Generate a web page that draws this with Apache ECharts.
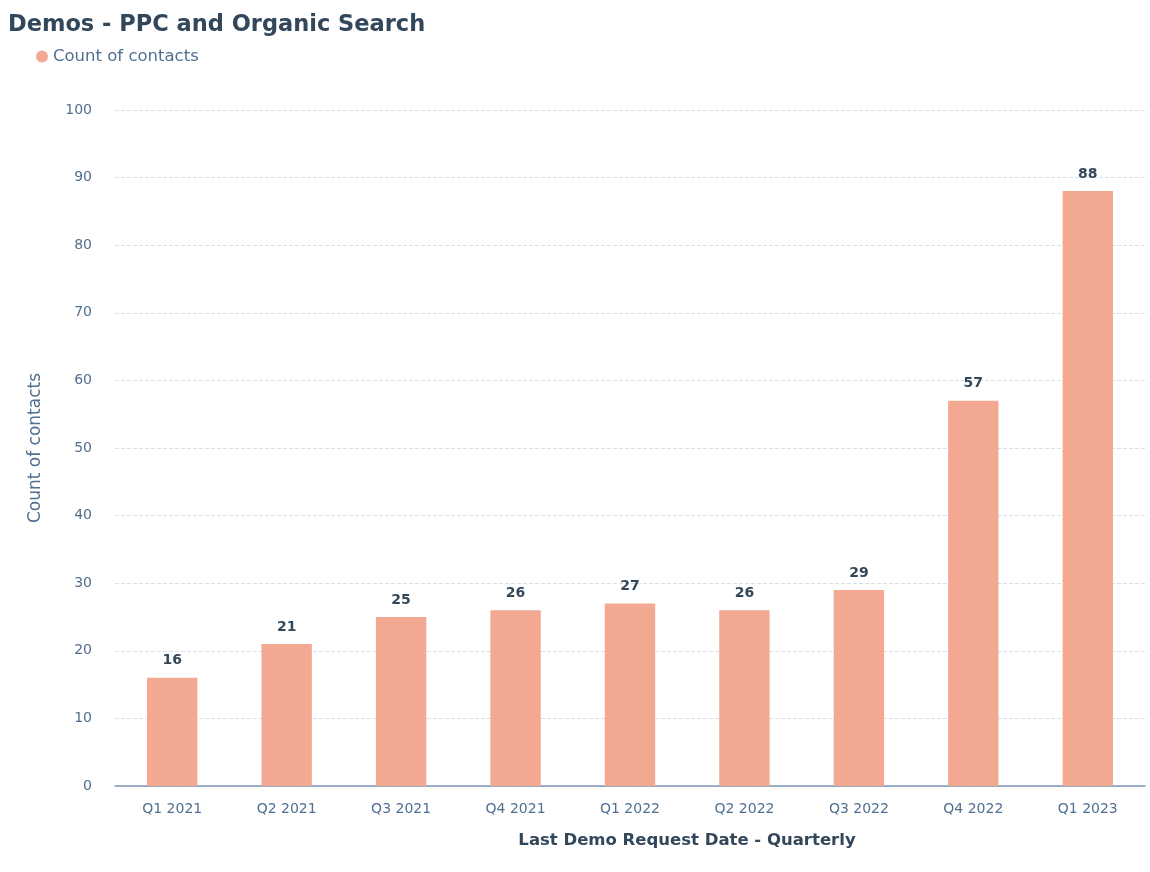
<!DOCTYPE html>
<html>
<head>
<meta charset="utf-8">
<script src="https://cdn.jsdelivr.net/npm/echarts@6/dist/echarts.min.js"></script>
<style>
  html, body { margin: 0; padding: 0; background: #fff; }
  #chart { width: 1150px; height: 872px; }
</style>
</head>
<body>
<div id="chart"></div>
<script>
const quarters = ['Q1 2021', 'Q2 2021', 'Q3 2021', 'Q4 2021', 'Q1 2022', 'Q2 2022', 'Q3 2022', 'Q4 2022', 'Q1 2023']
const contacts = [16, 21, 25, 26, 27, 26, 29, 57, 88]

const chart = echarts.init(document.getElementById('chart'), null, { renderer: 'canvas' })

const font = '"DejaVu Sans", "Noto Sans", sans-serif'

chart.setOption({
  animation: false,
  title: {
    text: 'Demos - PPC and Organic Search',
    left: 3,
    top: 9,
    textStyle: { fontFamily: font, fontSize: 22.5, fontWeight: 'bold', color: '#33475b' }
  },
  legend: {
    left: 31,
    top: 43,
    icon: 'circle',
    itemWidth: 12,
    itemHeight: 12,
    itemGap: 6,
    textStyle: { fontFamily: font, fontSize: 16.5, color: '#516f90' }
  },
  grid: { left: 115, right: 5, top: 110, bottom: 86 },
  xAxis: {
    type: 'category',
    data: quarters,
    name: 'Last Demo Request Date - Quarterly',
    nameLocation: 'middle',
    nameGap: 46,
    nameTextStyle: { fontFamily: font, fontSize: 16.5, fontWeight: 'bold', color: '#33475b', padding: [0, 0, 0, 114] },
    axisLine: { lineStyle: { color: '#7c98b6', width: 1.5 } },
    axisTick: { show: false },
    axisLabel: { fontFamily: font, fontSize: 14, color: '#516f90', margin: 16 }
  },
  yAxis: {
    type: 'value',
    min: 0,
    max: 100,
    interval: 10,
    name: 'Count of contacts',
    nameLocation: 'middle',
    nameGap: 71,
    nameTextStyle: { fontFamily: font, fontSize: 17, color: '#516f90' },
    axisLine: { show: false },
    axisTick: { show: false },
    axisLabel: { fontFamily: font, fontSize: 14, color: '#516f90', margin: 23 },
    splitLine: { lineStyle: { color: '#dbe0e8', type: 'dashed' } }
  },
  series: [
    {
      name: 'Count of contacts',
      type: 'bar',
      data: contacts,
      barWidth: '44%',
      itemStyle: { color: '#f2a891' },
      label: {
        show: true,
        position: 'top',
        distance: 10,
        fontFamily: font,
        fontSize: 14,
        fontWeight: 'bold',
        color: '#33475b'
      }
    }
  ]
})
</script>
</body>
</html>
